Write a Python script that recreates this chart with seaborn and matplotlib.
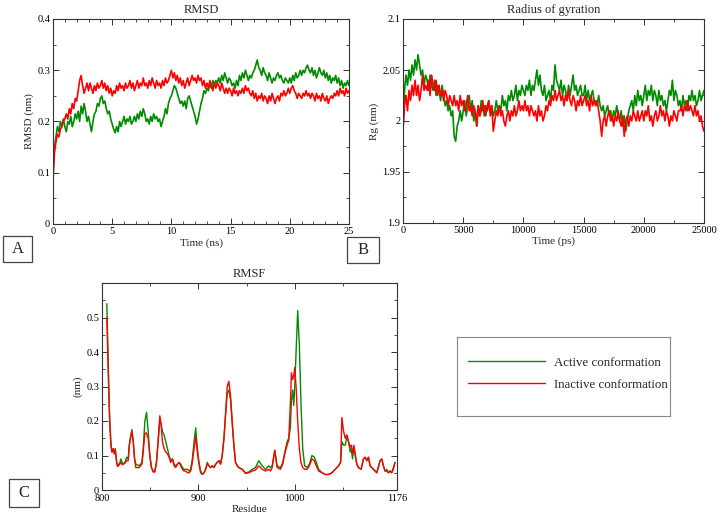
import numpy as np
import matplotlib
matplotlib.use("Agg")
import matplotlib.pyplot as plt
from matplotlib.patches import Rectangle
from matplotlib.ticker import MultipleLocator, FixedLocator, StrMethodFormatter
import seaborn as sns

GREEN = "#008b00"
RED = "#ff0000"
FIG_W, FIG_H = 719, 515

# ---- RMSD (nm), sampled every 0.125 ns ----
rmsd_time = np.arange(201) * 0.125
rmsd_active = [
    0.085, 0.15, 0.17, 0.19, 0.18, 0.2, 0.19, 0.205,
    0.19, 0.18, 0.2, 0.195, 0.21, 0.19, 0.2, 0.215,
    0.205, 0.22, 0.2, 0.23, 0.215, 0.235, 0.22, 0.2,
    0.21, 0.195, 0.18, 0.2, 0.215, 0.22, 0.235, 0.23,
    0.245, 0.25, 0.235, 0.24, 0.225, 0.215, 0.22, 0.205,
    0.195, 0.185, 0.178, 0.19, 0.18, 0.2, 0.19, 0.2,
    0.21, 0.195, 0.205, 0.2, 0.21, 0.195, 0.2, 0.21,
    0.2, 0.215, 0.205, 0.22, 0.21, 0.225, 0.215, 0.2,
    0.205, 0.195, 0.21, 0.2, 0.215, 0.205, 0.21, 0.2,
    0.205, 0.19, 0.2, 0.21, 0.225, 0.215, 0.235, 0.245,
    0.25, 0.26, 0.27, 0.265, 0.255, 0.245, 0.235, 0.24,
    0.23, 0.24, 0.225, 0.245, 0.25, 0.24, 0.23, 0.22,
    0.21, 0.195, 0.205, 0.22, 0.235, 0.245, 0.26, 0.255,
    0.265, 0.26, 0.275, 0.265, 0.28, 0.27, 0.28, 0.275,
    0.285, 0.275, 0.29, 0.28, 0.295, 0.285, 0.275, 0.285,
    0.28, 0.27, 0.275, 0.265, 0.28, 0.27, 0.29, 0.28,
    0.295, 0.285, 0.3, 0.29, 0.28, 0.29, 0.285, 0.295,
    0.3, 0.31, 0.32, 0.305, 0.3, 0.29, 0.305, 0.295,
    0.29, 0.28, 0.295, 0.285, 0.275, 0.285, 0.28, 0.29,
    0.295, 0.285, 0.29, 0.28, 0.275, 0.285, 0.28, 0.275,
    0.285, 0.275, 0.29, 0.28, 0.295, 0.285, 0.29, 0.3,
    0.29, 0.3, 0.295, 0.305, 0.31, 0.3, 0.295, 0.305,
    0.29, 0.3, 0.285, 0.295, 0.305, 0.295, 0.29, 0.3,
    0.285, 0.295, 0.28, 0.29, 0.275, 0.285, 0.28, 0.29,
    0.275, 0.285, 0.27, 0.28, 0.265, 0.275, 0.27, 0.28,
    0.27,
]
rmsd_inactive = [
    0.095, 0.14, 0.16, 0.175, 0.17, 0.185, 0.19, 0.2,
    0.205, 0.215, 0.205, 0.225, 0.215, 0.235, 0.225, 0.245,
    0.24, 0.26, 0.28, 0.29, 0.27, 0.255, 0.265, 0.275,
    0.26, 0.275, 0.265, 0.255, 0.27, 0.26, 0.275, 0.265,
    0.27, 0.28, 0.265, 0.275, 0.26, 0.27, 0.255, 0.265,
    0.25, 0.26, 0.255, 0.27, 0.26, 0.275, 0.265, 0.27,
    0.26, 0.275, 0.265, 0.27, 0.28, 0.265, 0.275, 0.26,
    0.27, 0.28, 0.265, 0.275, 0.27, 0.285, 0.27, 0.275,
    0.265, 0.28, 0.27, 0.285, 0.275, 0.265, 0.28, 0.27,
    0.275, 0.265, 0.28, 0.27, 0.285, 0.275, 0.28, 0.29,
    0.3, 0.285, 0.295, 0.28, 0.29, 0.275, 0.285, 0.27,
    0.28, 0.265, 0.275, 0.285, 0.27, 0.28, 0.29, 0.28,
    0.285, 0.275, 0.29, 0.28, 0.285, 0.27, 0.28, 0.265,
    0.275, 0.265, 0.28, 0.27, 0.26, 0.275, 0.265, 0.275,
    0.27, 0.26, 0.275, 0.265, 0.255, 0.265, 0.255, 0.265,
    0.26, 0.25, 0.265, 0.255, 0.26, 0.25, 0.26, 0.255,
    0.265, 0.255, 0.27, 0.26, 0.265, 0.255, 0.25, 0.26,
    0.245, 0.255, 0.24, 0.25, 0.245, 0.255, 0.24, 0.25,
    0.245, 0.235, 0.25, 0.24, 0.255, 0.245, 0.235, 0.245,
    0.25, 0.24, 0.255, 0.25, 0.26, 0.25, 0.255, 0.265,
    0.255, 0.265, 0.27, 0.26, 0.255, 0.245, 0.255, 0.25,
    0.245, 0.255, 0.25, 0.26, 0.25, 0.255, 0.245, 0.255,
    0.25, 0.24, 0.255, 0.245, 0.25, 0.24, 0.255, 0.245,
    0.24, 0.25, 0.235, 0.245, 0.25, 0.245, 0.255, 0.25,
    0.26, 0.25, 0.265, 0.255, 0.26, 0.25, 0.265, 0.255,
    0.26,
]

# ---- Radius of gyration (nm), sampled every 125 ps ----
rg_time = np.arange(201) * 125
rg_active = [
    1.995, 2.03, 2.045, 2.035, 2.05, 2.04, 2.055, 2.045,
    2.06, 2.05, 2.065, 2.055, 2.045, 2.05, 2.035, 2.045,
    2.04, 2.03, 2.045, 2.035, 2.03, 2.04, 2.025, 2.035,
    2.03, 2.02, 2.035, 2.025, 2.015, 2.02, 2.01, 2.015,
    2.005, 2.01, 1.985, 1.98, 1.995, 2.0, 2.01, 2.0,
    2.01, 2.02, 2.005, 2.015, 2.025, 2.01, 2.02, 2.0,
    2.01, 1.995, 2.015, 2.005, 2.02, 2.01, 2.015, 2.005,
    2.015, 2.02, 2.01, 2.015, 2.005, 2.01, 2.02, 2.01,
    2.015, 2.01, 2.025, 2.015, 2.02, 2.01, 2.025, 2.02,
    2.03, 2.02, 2.025, 2.035, 2.02, 2.03, 2.025, 2.035,
    2.03, 2.025, 2.035, 2.03, 2.04, 2.025, 2.035, 2.03,
    2.04, 2.05, 2.035, 2.045, 2.03, 2.025, 2.035, 2.02,
    2.025, 2.03, 2.02, 2.035, 2.03, 2.055, 2.04, 2.035,
    2.03, 2.04, 2.025, 2.035, 2.03, 2.02, 2.035, 2.025,
    2.035, 2.045, 2.03, 2.035, 2.025, 2.03, 2.035, 2.025,
    2.025, 2.035, 2.02, 2.03, 2.02, 2.025, 2.03, 2.02,
    2.02, 2.015, 2.025, 2.015, 2.01, 2.015, 2.005, 2.01,
    2.015, 2.005, 2.01, 2.0, 2.01, 2.005, 2.015, 2.005,
    2.0, 2.01, 1.995, 2.005, 1.99, 2.0, 2.01, 2.015,
    2.02, 2.01, 2.025, 2.015, 2.03, 2.02, 2.025, 2.015,
    2.025, 2.035, 2.02, 2.03, 2.025, 2.035, 2.02, 2.03,
    2.025, 2.015, 2.03, 2.02, 2.025, 2.015, 2.02, 2.01,
    2.02, 2.03, 2.025, 2.04, 2.02, 2.03, 2.025, 2.015,
    2.02, 2.01, 2.025, 2.015, 2.02, 2.01, 2.025, 2.02,
    2.03, 2.02, 2.025, 2.015, 2.02, 2.03, 2.02, 2.025,
    2.03,
]
rg_inactive = [
    1.99, 2.015, 2.025, 2.01, 2.03, 2.02, 2.035, 2.025,
    2.04, 2.025, 2.035, 2.02, 2.03, 2.045, 2.03, 2.035,
    2.03, 2.04, 2.025, 2.045, 2.035, 2.03, 2.04, 2.025,
    2.035, 2.025, 2.03, 2.02, 2.03, 2.025, 2.015, 2.025,
    2.02, 2.015, 2.025, 2.015, 2.02, 2.01, 2.025, 2.015,
    2.02, 2.01, 2.015, 2.025, 2.01, 2.015, 2.005, 2.015,
    2.01, 1.995, 2.015, 2.005, 2.01, 2.02, 2.005, 2.015,
    2.01, 2.02, 2.005, 2.015, 1.99, 2.0, 2.01, 2.005,
    2.015, 2.005, 2.01, 2.0, 1.995, 2.005, 2.01, 2.0,
    2.01, 2.005, 2.015, 2.005, 2.01, 2.02, 2.01, 2.015,
    2.01, 2.02, 2.01, 2.015, 2.005, 2.015, 2.01, 2.005,
    2.01, 2.0, 2.015, 2.005, 2.01, 2.0, 2.005, 2.015,
    2.01, 2.02, 2.015, 2.025, 2.02, 2.03, 2.02, 2.025,
    2.03, 2.02, 2.025, 2.015, 2.025, 2.02, 2.03, 2.02,
    2.015, 2.025, 2.02, 2.01, 2.02, 2.015, 2.025, 2.015,
    2.02, 2.025, 2.015, 2.02, 2.01, 2.025, 2.015, 2.02,
    2.015, 2.02, 2.01, 2.0, 1.985, 2.0, 2.005, 1.995,
    2.005, 2.01, 2.0, 2.005, 1.995, 2.005, 2.0, 2.01,
    2.0, 1.995, 2.005, 1.985, 2.0, 2.005, 1.995, 2.005,
    2.0, 2.01, 2.005, 2.0, 2.01, 2.0, 2.005, 2.01,
    2.0, 2.01, 2.005, 2.015, 2.0, 2.005, 1.995, 2.005,
    2.01, 2.0, 2.005, 2.015, 2.005, 2.01, 2.0, 2.01,
    2.005, 1.995, 2.005, 2.0, 2.01, 2.005, 2.0, 2.01,
    2.01, 2.015, 2.005, 2.015, 2.01, 2.02, 2.01, 2.015,
    2.01, 2.005, 2.015, 2.005, 2.01, 2.0, 2.005, 1.995,
    1.99,
]

# ---- RMSF (nm) per residue ----
rmsf_residue = [
    805, 807, 808, 809.3, 810.3, 811.7, 812.8, 813.8, 815.2, 816.2,
    818.6, 819.6, 821.4, 823.8, 825.5, 827.2, 828.3, 829.6, 831, 832.4,
    833.8, 835.1, 838.6, 841.4, 842.7, 844.5, 846.2, 847.9, 849.6, 851.3,
    853.1, 854.8, 856.5, 858.2, 860, 861.3, 862.7, 864.4, 866.2, 867.9,
    869.6, 871.3, 873.1, 874.8, 876.5, 878.2, 880, 881.7, 883.4, 885.1,
    886.8, 888.6, 890.3, 892, 893.7, 895.5, 897.2, 898.9, 900.6, 902.3,
    904.1, 905.8, 907.5, 909.2, 911, 912.7, 914.4, 916.1, 917.9, 919.6,
    921.3, 923, 924.7, 926.5, 928.2, 929.9, 931.6, 933.4, 935.1, 936.8,
    938.5, 940.3, 942, 945.4, 948.9, 952.3, 955.8, 959.2, 962.7, 966.1,
    969.6, 973, 974.7, 976.5, 979.2, 981.6, 985.1, 987.5, 989.6, 992,
    993.7, 995.4, 996.5, 997.8, 998.9, 999.9, 1001.3, 1003, 1004.7, 1006.4,
    1008.2, 1010.2, 1012.7, 1015.1, 1017.8, 1020.2, 1022.3, 1024.7, 1028.2, 1031.6,
    1035, 1038.5, 1041.9, 1045.4, 1047.5, 1048.8, 1050.6, 1052.3, 1054, 1055.7,
    1057.5, 1058.5, 1059.9, 1061.2, 1062.6, 1064.3, 1066, 1068.8, 1071.2, 1073,
    1074.7, 1076.4, 1078.1, 1081.6, 1085, 1088.5, 1090.2, 1091.9, 1093.6, 1095.4,
    1097.1, 1098.8, 1100.5, 1102.2, 1104,
]
rmsf_active = [
    0.54, 0.30, 0.20, 0.13, 0.11, 0.12, 0.105, 0.12, 0.08, 0.07,
    0.08, 0.09, 0.075, 0.08, 0.095, 0.09, 0.13, 0.155, 0.175, 0.14,
    0.09, 0.075, 0.07, 0.08, 0.12, 0.2, 0.225, 0.17, 0.1, 0.065,
    0.055, 0.055, 0.08, 0.14, 0.205, 0.19, 0.17, 0.16, 0.14, 0.12,
    0.10, 0.085, 0.09, 0.075, 0.07, 0.075, 0.08, 0.075, 0.065, 0.06,
    0.06, 0.06, 0.055, 0.06, 0.09, 0.14, 0.18, 0.12, 0.08, 0.055,
    0.045, 0.05, 0.06, 0.08, 0.07, 0.065, 0.07, 0.065, 0.075, 0.08,
    0.085, 0.075, 0.10, 0.15, 0.22, 0.28, 0.29, 0.26, 0.19, 0.13,
    0.08, 0.07, 0.065, 0.06, 0.05, 0.052, 0.06, 0.065, 0.085, 0.07,
    0.06, 0.07, 0.065, 0.07, 0.115, 0.07, 0.065, 0.08, 0.11, 0.14,
    0.15, 0.18, 0.26, 0.29, 0.245, 0.30, 0.40, 0.52, 0.42, 0.25,
    0.12, 0.07, 0.065, 0.075, 0.10, 0.095, 0.08, 0.06, 0.05, 0.045,
    0.045, 0.05, 0.06, 0.07, 0.08, 0.14, 0.13, 0.13, 0.155, 0.14,
    0.11, 0.12, 0.09, 0.125, 0.10, 0.075, 0.065, 0.06, 0.09, 0.095,
    0.085, 0.095, 0.07, 0.06, 0.05, 0.085, 0.09, 0.07, 0.055, 0.06,
    0.05, 0.055, 0.05, 0.065, 0.08,
]
rmsf_inactive = [
    0.50, 0.29, 0.20, 0.13, 0.11, 0.12, 0.105, 0.115, 0.08, 0.068,
    0.075, 0.08, 0.073, 0.078, 0.085, 0.085, 0.13, 0.15, 0.17, 0.14,
    0.09, 0.065, 0.065, 0.075, 0.11, 0.165, 0.165, 0.15, 0.1, 0.065,
    0.052, 0.052, 0.08, 0.14, 0.215, 0.19, 0.14, 0.12, 0.11, 0.105,
    0.095, 0.08, 0.09, 0.07, 0.065, 0.075, 0.08, 0.07, 0.06, 0.055,
    0.055, 0.05, 0.05, 0.055, 0.08, 0.12, 0.155, 0.11, 0.075, 0.05,
    0.045, 0.05, 0.06, 0.075, 0.07, 0.065, 0.07, 0.065, 0.075, 0.08,
    0.085, 0.075, 0.10, 0.15, 0.22, 0.30, 0.315, 0.27, 0.20, 0.13,
    0.08, 0.07, 0.065, 0.06, 0.048, 0.05, 0.055, 0.058, 0.07, 0.06,
    0.055, 0.06, 0.055, 0.065, 0.115, 0.065, 0.06, 0.075, 0.105, 0.13,
    0.145, 0.25, 0.34, 0.32, 0.33, 0.355, 0.30, 0.20, 0.12, 0.08,
    0.065, 0.06, 0.06, 0.07, 0.09, 0.085, 0.07, 0.055, 0.05, 0.045,
    0.045, 0.05, 0.06, 0.07, 0.08, 0.21, 0.17, 0.15, 0.16, 0.14,
    0.125, 0.13, 0.105, 0.13, 0.105, 0.075, 0.065, 0.06, 0.09, 0.095,
    0.085, 0.095, 0.07, 0.06, 0.05, 0.085, 0.09, 0.07, 0.055, 0.055,
    0.05, 0.055, 0.05, 0.06, 0.08,
]
rmsf_ticks = [800, 900, 1000, 1106]
rmsf_tick_labels = ["800", "900", "1000", "1176"]
legend_labels = ["Active conformation", "Inactive conformation"]


def px_rect(x0, y0, x1, y1):
    # pixel box (top-left origin) -> figure fraction [left, bottom, width, height]
    return [x0 / FIG_W, 1 - y1 / FIG_H, (x1 - x0) / FIG_W, (y1 - y0) / FIG_H]


def style_axes(ax):
    for sp in ax.spines.values():
        sp.set_color("#333333")
        sp.set_linewidth(0.8)
    ax.tick_params(which="both", direction="in", top=True, right=True,
                   colors="#333333", labelcolor="black", labelsize=7.5, pad=2)
    ax.tick_params(which="major", length=4, width=0.7)
    ax.tick_params(which="minor", length=2, width=0.6)
    ax.yaxis.set_major_formatter(StrMethodFormatter("{x:g}"))


def panel_label(fig, text, box):
    left, bottom, w, h = px_rect(*box)
    fig.patches.append(Rectangle((left, bottom), w, h, transform=fig.transFigure,
                                 fill=False, ec="#444444", lw=0.9))
    fig.text(left + w / 2, bottom + h / 2, text, ha="center", va="center",
             fontsize=12)


sns.set_theme(style="ticks")
plt.rcParams["font.family"] = ["Liberation Serif", "DejaVu Serif"]

fig = plt.figure(figsize=(FIG_W / 100, FIG_H / 100), dpi=100)
fig.patch.set_facecolor("white")

# Panel A: RMSD
ax_a = fig.add_axes(px_rect(53, 19, 349, 224))
sns.lineplot(x=rmsd_time, y=rmsd_active, color=GREEN, lw=1.2, ax=ax_a)
sns.lineplot(x=rmsd_time, y=rmsd_inactive, color=RED, lw=1.2, ax=ax_a)
ax_a.set_xlim(0, 25)
ax_a.set_ylim(0, 0.4)
ax_a.xaxis.set_major_locator(MultipleLocator(5))
ax_a.xaxis.set_minor_locator(MultipleLocator(1))
ax_a.yaxis.set_major_locator(MultipleLocator(0.1))
ax_a.yaxis.set_minor_locator(MultipleLocator(0.05))
ax_a.set_xlabel("Time (ns)", fontsize=8, labelpad=2)
ax_a.set_ylabel("RMSD (nm)", fontsize=8, labelpad=2)
ax_a.set_title("RMSD", fontsize=9, pad=4)
style_axes(ax_a)

# Panel B: radius of gyration
ax_b = fig.add_axes(px_rect(403, 19, 704, 223))
sns.lineplot(x=rg_time, y=rg_active, color=GREEN, lw=1.2, ax=ax_b)
sns.lineplot(x=rg_time, y=rg_inactive, color=RED, lw=1.2, ax=ax_b)
ax_b.set_xlim(0, 25000)
ax_b.set_ylim(1.9, 2.1)
ax_b.xaxis.set_major_locator(MultipleLocator(5000))
ax_b.xaxis.set_minor_locator(MultipleLocator(2500))
ax_b.yaxis.set_major_locator(MultipleLocator(0.05))
ax_b.yaxis.set_minor_locator(MultipleLocator(0.025))
ax_b.set_xlabel("Time (ps)", fontsize=8, labelpad=1)
ax_b.set_ylabel("Rg (nm)", fontsize=8, labelpad=2)
ax_b.set_title("Radius of gyration", fontsize=9, pad=4)
style_axes(ax_b)

# Panel C: RMSF
ax_c = fig.add_axes(px_rect(102, 283, 397, 490))
sns.lineplot(x=rmsf_residue, y=rmsf_active, color=GREEN, lw=1.0, ax=ax_c)
sns.lineplot(x=rmsf_residue, y=rmsf_inactive, color=RED, lw=1.0, ax=ax_c)
ax_c.set_xlim(800, 1106)
ax_c.set_ylim(0, 0.6)
ax_c.xaxis.set_major_locator(FixedLocator(rmsf_ticks))
ax_c.set_xticklabels(rmsf_tick_labels)
ax_c.xaxis.set_minor_locator(FixedLocator([850, 950, 1050]))
ax_c.yaxis.set_major_locator(FixedLocator([0, 0.1, 0.2, 0.3, 0.4, 0.5]))
ax_c.yaxis.set_minor_locator(MultipleLocator(0.05))
ax_c.set_xlabel("Residue", fontsize=8, labelpad=1)
ax_c.set_ylabel("(nm)", fontsize=8, labelpad=3)
ax_c.set_title("RMSF", fontsize=9, pad=4)
style_axes(ax_c)
ax_c.tick_params(axis="x", pad=3)

# Legend in its own framed box
lax = fig.add_axes(px_rect(457, 337, 670, 416))
lax.set_xticks([])
lax.set_yticks([])
for sp in lax.spines.values():
    sp.set_color("#888888")
    sp.set_linewidth(0.8)
lax.legend(handles=ax_c.get_lines()[:2], labels=legend_labels,
           loc="upper left", bbox_to_anchor=(0.05, 0.75), frameon=False,
           borderpad=0, borderaxespad=0, handlelength=6.0, handletextpad=0.7,
           labelspacing=0.75, fontsize=9.3)

panel_label(fig, "A", (3, 236, 32, 262))
panel_label(fig, "B", (347, 237, 379, 263))
panel_label(fig, "C", (9, 479, 39, 507))

fig.savefig("out.png", dpi=100, facecolor="white")
